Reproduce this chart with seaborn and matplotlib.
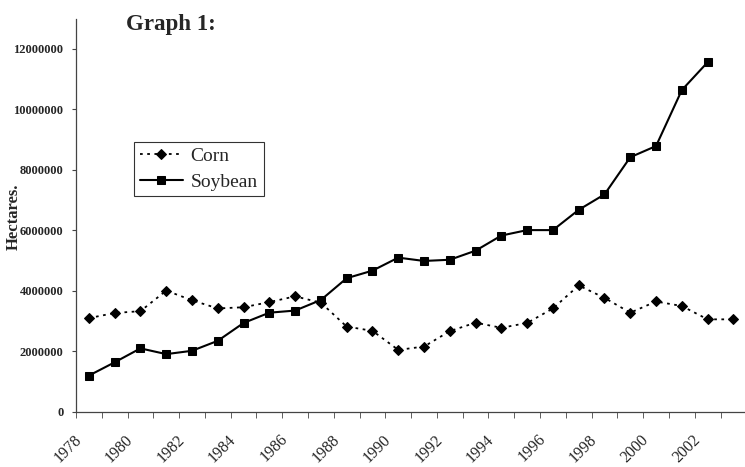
import numpy as np
import pandas as pd
import matplotlib
matplotlib.use("Agg")
import matplotlib.pyplot as plt
import matplotlib.transforms as mtransforms
import seaborn as sns
from matplotlib.ticker import FixedLocator

# data
corn_years = list(range(1978, 2004))
corn_ha = [3100000, 3270000, 3330000, 4010000, 3690000, 3420000, 3460000, 3630000,
           3820000, 3610000, 2820000, 2680000, 2050000, 2160000, 2670000, 2950000,
           2780000, 2940000, 3420000, 4180000, 3770000, 3280000, 3650000, 3500000,
           3060000, 3060000]
soy_years = list(range(1978, 2003))
soy_ha = [1200000, 1640000, 2100000, 1910000, 2020000, 2350000, 2940000, 3280000,
          3350000, 3700000, 4420000, 4670000, 5100000, 4990000, 5030000, 5330000,
          5830000, 6010000, 6010000, 6680000, 7190000, 8420000, 8790000, 10640000,
          11560000]
year_labels = [str(y) for y in range(1978, 2003, 2)]

corn = pd.DataFrame({"year": corn_years, "ha": corn_ha})
soy = pd.DataFrame({"year": soy_years, "ha": soy_ha})

sns.set_style("white")
plt.rcParams['font.family'] = ['Liberation Serif', 'DejaVu Serif']

fig = plt.figure(figsize=(7.45, 4.67), dpi=100)
ax = fig.add_axes([0.102, 0.118, 0.898, 0.842])

sns.lineplot(data=corn, x="year", y="ha", ax=ax, color="black", linestyle=(0, (1.5, 2.5)),
             linewidth=1.3, marker="D", markersize=5, markeredgecolor="black", label="Corn")
sns.lineplot(data=soy, x="year", y="ha", ax=ax, color="black", linestyle="-",
             linewidth=1.5, marker="s", markersize=5.5, markeredgecolor="black", label="Soybean")

ax.set_xlim(1977.5, 2003.45)
ax.set_ylim(0, 13000000)
ax.set_yticks(range(0, 12000001, 2000000))
ax.set_yticklabels([str(v) for v in range(0, 12000001, 2000000)], fontsize=9, fontweight="bold")
ax.set_xticks(range(1978, 2003, 2))
ax.set_xticklabels(year_labels, rotation=45, fontsize=11.5)
ax.tick_params(axis="x", which="major", length=0, pad=4)
ax.xaxis.set_minor_locator(FixedLocator(np.arange(1977.5, 2003.6, 1)))
ax.tick_params(axis="x", which="minor", length=4, direction="out", bottom=True, color="#444")
ax.tick_params(axis="y", length=3, direction="out", left=True, color="#444", pad=6)

# move the slanted year labels down-left, like the original
shift = mtransforms.ScaledTranslation(-0.21, -0.14, fig.dpi_scale_trans)
for lab in ax.get_xticklabels():
    lab.set_transform(lab.get_transform() + shift)

for s in ["top", "right"]:
    ax.spines[s].set_visible(False)
for s in ["left", "bottom"]:
    ax.spines[s].set_color("#444")
    ax.spines[s].set_linewidth(0.9)

ax.set_xlabel("")
ax.set_ylabel("Hectares.", fontsize=12, fontweight="bold")
ax.yaxis.set_label_coords(-0.081, 0.496)

fig.text(0.229, 0.935, "Graph 1:", fontsize=16.5, fontweight="bold", ha="center")

leg = ax.legend(loc="upper left", bbox_to_anchor=(0.087, 0.687), fontsize=14, frameon=True,
                fancybox=False, edgecolor="black", handlelength=2.2, borderpad=0.3,
                labelspacing=0.4, handletextpad=0.4, borderaxespad=0)
leg.get_frame().set_linewidth(0.8)

fig.savefig("out.png", dpi=100)
